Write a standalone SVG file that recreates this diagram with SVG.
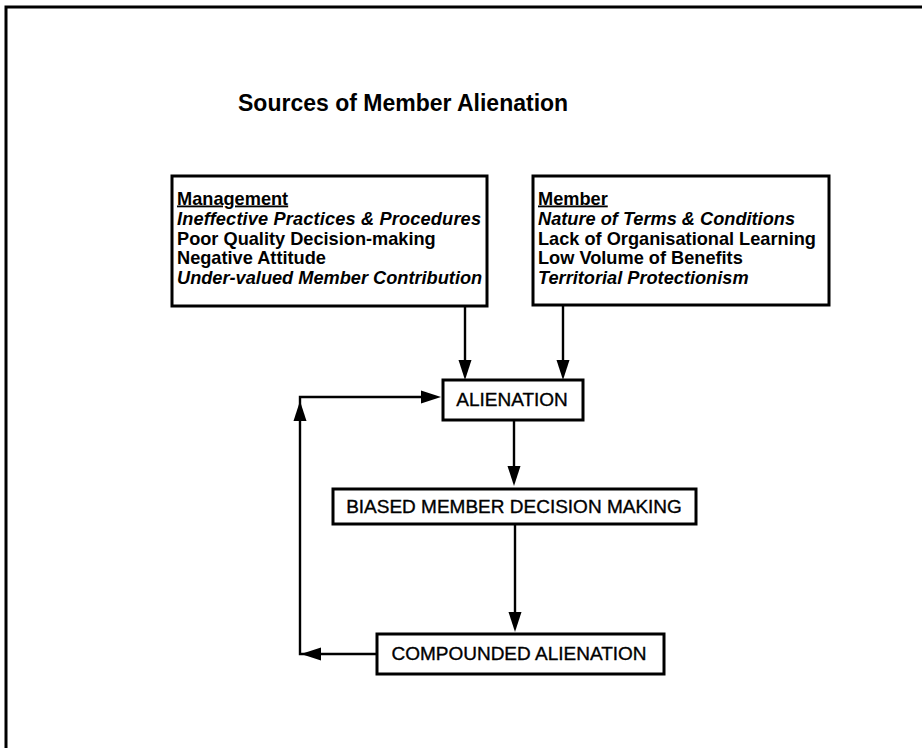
<svg xmlns="http://www.w3.org/2000/svg" width="922" height="748" viewBox="0 0 922 748">
  <style>
    .frame { fill: none; stroke: #000; stroke-width: 3; }
    .box { fill: #fff; stroke: #000; stroke-width: 3; }
    .line { fill: none; stroke: #000; stroke-width: 2.4; }
    .title { font-family: "Liberation Sans", Arial, sans-serif; font-weight: bold; font-size: 23px; fill: #000; }
    .list { font-family: "Liberation Sans", Arial, sans-serif; font-weight: bold; font-size: 18.2px; fill: #000; }
    .it { font-style: italic; }
    .ul { text-decoration: underline; }
    .label { font-family: "Liberation Sans", Arial, sans-serif; font-size: 19px; fill: #000; stroke: #000; stroke-width: 0.35; text-anchor: middle; }
  </style>
  <defs>
    <!-- arrowhead pointing along +x, tip at origin -->
    <path id="ah" d="M0,0 L-20,-6.5 L-20,6.5 Z" fill="#000"/>
  </defs>

  <rect width="922" height="748" fill="#fff"/>

  <!-- page frame (top and left edges) -->
  <path class="frame" d="M6,748 V7 H922"/>

  <text class="title" x="238" y="111">Sources of Member Alienation</text>

  <g id="management">
    <rect class="box" x="172" y="176" width="315" height="130"/>
    <text class="list ul" x="177" y="204.5">Management</text>
    <text class="list it" x="177" y="224.5" textLength="304" lengthAdjust="spacing">Ineffective Practices &amp; Procedures</text>
    <text class="list" x="177" y="244.5">Poor Quality Decision-making</text>
    <text class="list" x="177" y="264">Negative Attitude</text>
    <text class="list it" x="177" y="284">Under-valued Member Contribution</text>
  </g>

  <g id="member">
    <rect class="box" x="533" y="176" width="296" height="129"/>
    <text class="list ul" x="538" y="204.5">Member</text>
    <text class="list it" x="538" y="224.5">Nature of Terms &amp; Conditions</text>
    <text class="list" x="538" y="244.5">Lack of Organisational Learning</text>
    <text class="list" x="538" y="264">Low Volume of Benefits</text>
    <text class="list it" x="538" y="284">Territorial Protectionism</text>
  </g>

  <g id="alienation">
    <rect class="box" x="443" y="380" width="140" height="40"/>
    <text class="label" x="512" y="406">ALIENATION</text>
  </g>

  <g id="biased">
    <rect class="box" x="333" y="489" width="363" height="35"/>
    <text class="label" x="514" y="513">BIASED MEMBER DECISION MAKING</text>
  </g>

  <g id="compounded">
    <rect class="box" x="377" y="634" width="287" height="40"/>
    <text class="label" x="519" y="660">COMPOUNDED ALIENATION</text>
  </g>

  <g id="connectors">
    <!-- sources into alienation -->
    <path class="line" d="M465,306 V362"/>
    <use href="#ah" transform="translate(465,380) rotate(90)"/>
    <path class="line" d="M563,305 V362"/>
    <use href="#ah" transform="translate(563,380) rotate(90)"/>
    <!-- main chain -->
    <path class="line" d="M514,420 V468"/>
    <use href="#ah" transform="translate(514,486) rotate(90)"/>
    <path class="line" d="M515,524 V614"/>
    <use href="#ah" transform="translate(515,632) rotate(90)"/>
    <!-- feedback loop -->
    <path class="line" d="M377,654 H300 V397 H424"/>
    <use href="#ah" transform="translate(301,654) rotate(180)"/>
    <use href="#ah" transform="translate(300,401) rotate(-90)"/>
    <use href="#ah" transform="translate(441,397)"/>
  </g>
</svg>
